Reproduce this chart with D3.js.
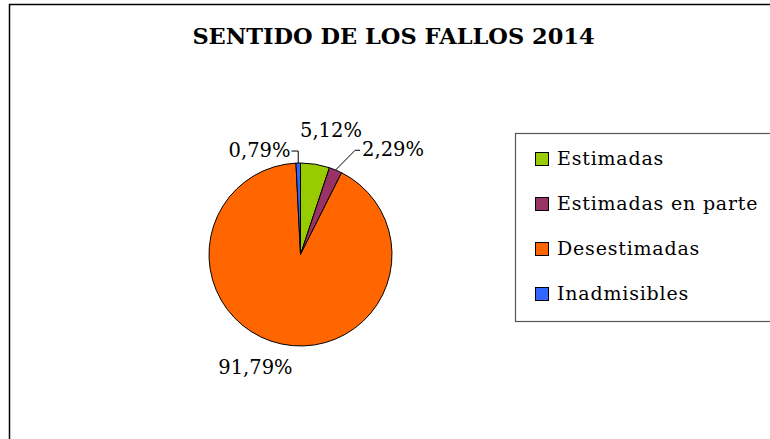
<!DOCTYPE html>
<html>
<head>
<meta charset="utf-8">
<script src="https://cdn.jsdelivr.net/npm/d3@7"></script>
<style>
  body { margin: 0; background: #fff; }
  svg text { font-family: "DejaVu Serif", "Liberation Serif", serif; fill: #000; }
</style>
</head>
<body>
<div id="chart"></div>
<script>
var title = "SENTIDO DE LOS FALLOS 2014";
var categories = ["Estimadas", "Estimadas en parte", "Desestimadas", "Inadmisibles"];
var values = [5.12, 2.29, 91.79, 0.79];
var colors = ["#99cc00", "#993366", "#ff6600", "#3366ff"];

var W = 770, H = 439;
var cx = 300.5, cy = 254.5, R = 91.5;

const svg = d3.select("#chart")
  .append("svg")
  .attr("width", W)
  .attr("height", H);

// outer chart frame (runs off the right and bottom edges)
svg.append("rect")
  .attr("x", 9.5).attr("y", 4.5)
  .attr("width", W).attr("height", H)
  .attr("fill", "#fff")
  .attr("stroke", "#000")
  .attr("stroke-width", 1.5);

svg.append("text")
  .attr("x", 393.5).attr("y", 44)
  .attr("text-anchor", "middle")
  .attr("font-weight", "bold")
  .attr("font-size", 22.5)
  .text(title);

var data = categories.map((c, i) => { return {name: c, value: values[i], color: colors[i]}; });

var pie = d3.pie().sort(null).value((d) => d.value);
var arcs = pie(data);
var arc = d3.arc().innerRadius(0).outerRadius(R);

var g = svg.append("g").attr("transform", "translate(" + cx + "," + cy + ")");

g.selectAll("path.slice")
  .data(arcs)
  .enter()
  .append("path")
  .attr("class", "slice")
  .attr("d", arc)
  .attr("fill", (d) => d.data.color)
  .attr("stroke", "#000")
  .attr("stroke-width", 1);

// label placement: radius beyond the pie plus a nudge per slice
var labelArc = d3.arc().innerRadius(R + 30).outerRadius(R + 30);
var nudge = [[11, 2, "middle", false], [15, 14, "start", true], [-20, 1, "middle", false], [-7, 24, "end", true]];

function fmt(v) { return v.toFixed(2).replace(".", ",") + "%"; }

arcs.forEach((a, i) => {
  var p = labelArc.centroid(a);
  var n = nudge[i];
  var tx = p[0] + n[0], ty = p[1] + n[1];
  g.append("text")
    .attr("x", tx).attr("y", ty)
    .attr("text-anchor", n[2])
    .attr("font-size", 19.5)
    .text(fmt(a.data.value));
  if(n[3]) {
    var mid = (a.startAngle + a.endAngle) / 2;
    var ex = Math.sin(mid) * R, ey = -Math.cos(mid) * R;
    var ly = ty - 6;
    var pts;
    if(n[2] == "start") pts = [[ex, ey], [tx - 7, ly], [tx - 2, ly]];
    else pts = [[ex, ey], [ex, ly], [tx + 1, ly]];
    g.append("path")
      .attr("d", d3.line()(pts))
      .attr("fill", "none")
      .attr("stroke", "#000")
      .attr("stroke-width", 1);
  }
});

// legend
var lg = svg.append("g").attr("transform", "translate(515.5,133.5)");
lg.append("rect")
  .attr("width", 300).attr("height", 188)
  .attr("fill", "#fff")
  .attr("stroke", "#555")
  .attr("stroke-width", 1.2);

var rows = lg.selectAll("g.row")
  .data(data)
  .enter()
  .append("g")
  .attr("class", "row")
  .attr("transform", (d, i) => "translate(20," + (19 + i * 45) + ")");

rows.append("rect")
  .attr("width", 13).attr("height", 13)
  .attr("fill", (d) => d.color)
  .attr("stroke", "#000")
  .attr("stroke-width", 1);

rows.append("text")
  .attr("x", 21.5).attr("y", 12)
  .attr("font-size", 19)
  .attr("letter-spacing", 0.8)
  .text((d) => d.name);
</script>
</body>
</html>
